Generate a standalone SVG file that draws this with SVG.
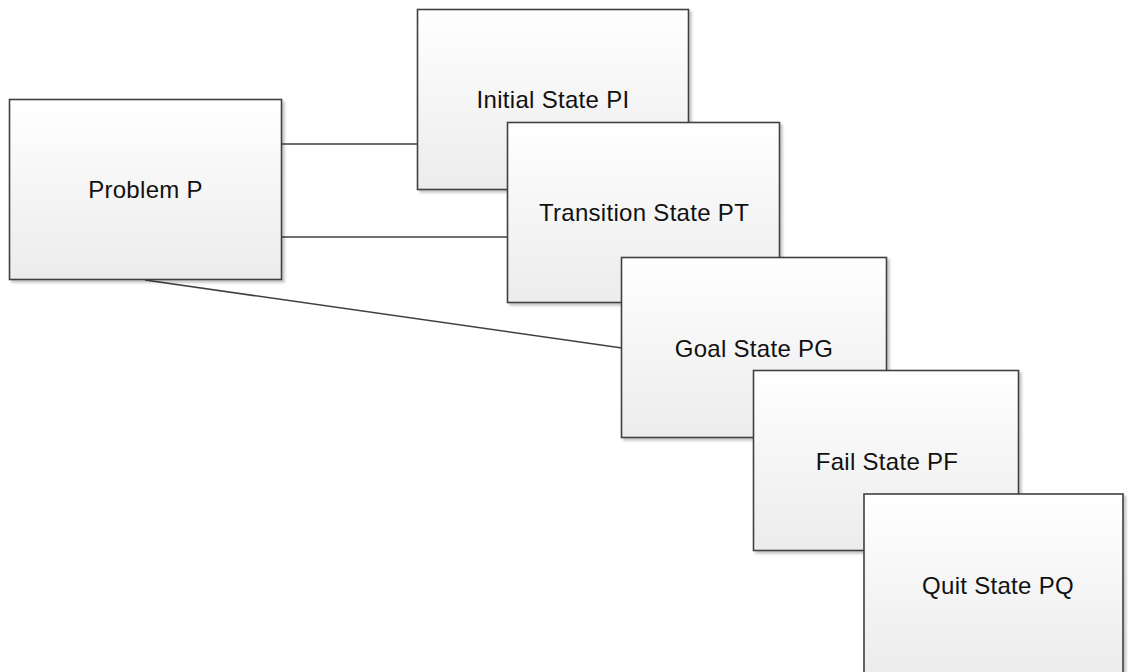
<svg xmlns="http://www.w3.org/2000/svg" width="1135" height="672" viewBox="0 0 1135 672">
  <style>
    .box { fill: url(#boxFill); stroke: #404040; stroke-width: 1.6; filter: url(#shadow); }
    .label { font-family: "Liberation Sans", Arial, sans-serif; font-size: 24px; letter-spacing: 0.3px; fill: #111111; text-anchor: middle; }
    .link { stroke: #404040; stroke-width: 1.6; fill: none; }
  </style>
  <defs>
    <linearGradient id="boxFill" x1="0" y1="0" x2="0" y2="1">
      <stop offset="0" stop-color="#ffffff"/>
      <stop offset="1" stop-color="#ececec"/>
    </linearGradient>
    <filter id="shadow" x="-10%" y="-10%" width="120%" height="120%">
      <feDropShadow dx="2.5" dy="2.5" stdDeviation="1.2" flood-color="#000000" flood-opacity="0.22"/>
    </filter>
  </defs>
  <rect width="1135" height="672" fill="#ffffff"/>

  <g id="connectors">
    <line class="link" x1="282" y1="144" x2="418" y2="144"/>
    <line class="link" x1="282" y1="237" x2="508" y2="237"/>
    <line class="link" x1="145" y1="280" x2="622" y2="348"/>
  </g>

  <g id="problem-p">
    <rect class="box" x="9.5" y="99.5" width="272" height="180"/>
    <text class="label" x="145.5" y="198">Problem P</text>
  </g>

  <g id="initial-state-pi">
    <rect class="box" x="417.5" y="9.5" width="271" height="180"/>
    <text class="label" x="553" y="108">Initial State PI</text>
  </g>

  <g id="transition-state-pt">
    <rect class="box" x="507.5" y="122.5" width="272" height="180"/>
    <text class="label" x="644" y="221">Transition State PT</text>
  </g>

  <g id="goal-state-pg">
    <rect class="box" x="621.5" y="257.5" width="265" height="180"/>
    <text class="label" x="754" y="357">Goal State PG</text>
  </g>

  <g id="fail-state-pf">
    <rect class="box" x="753.5" y="370.5" width="265" height="180"/>
    <text class="label" x="887" y="470">Fail State PF</text>
  </g>

  <g id="quit-state-pq">
    <rect class="box" x="864" y="494" width="259" height="180"/>
    <text class="label" x="998" y="594">Quit State PQ</text>
  </g>
</svg>
